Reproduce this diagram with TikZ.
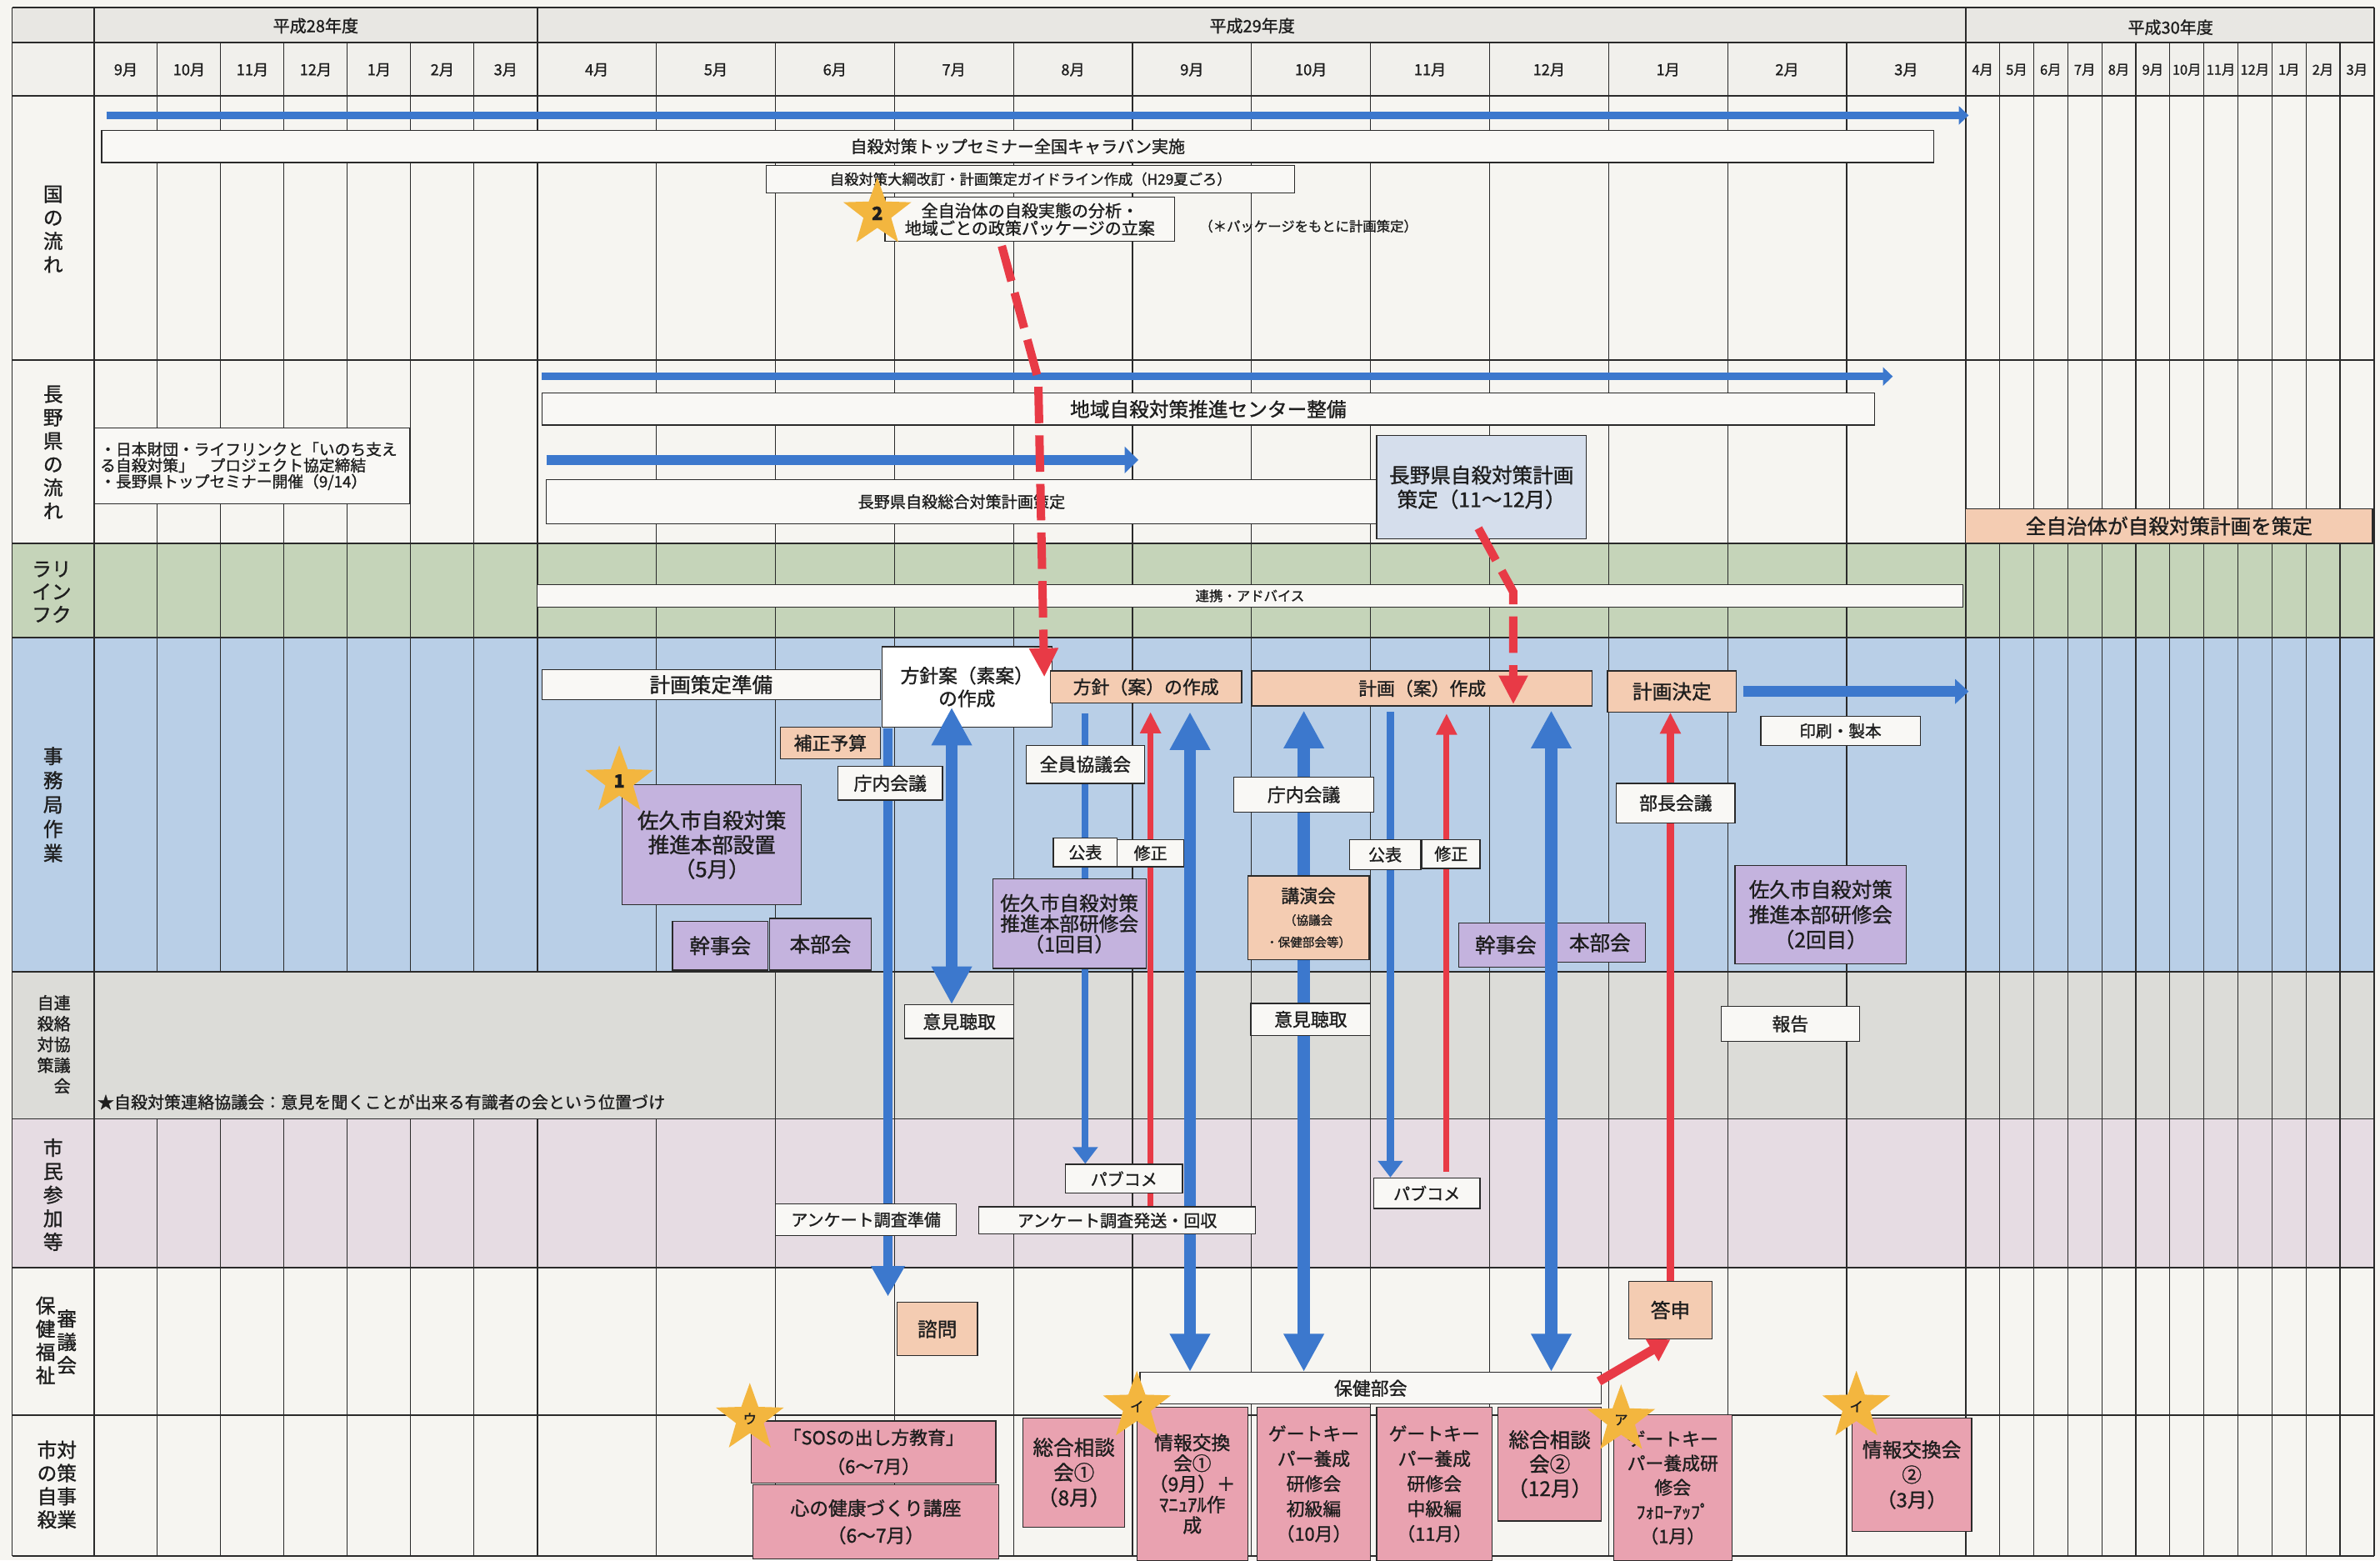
\documentclass[tikz,border=0pt]{standalone}
\usepackage{fontspec}
\setmainfont{Noto Sans CJK JP}[FakeBold=1.2]
\usetikzlibrary{arrows.meta,shapes.geometric}
\definecolor{sskPaper}{HTML}{F6F5F1}
\definecolor{sskHead}{HTML}{E8E7E3}
\definecolor{sskMonth}{HTML}{F1F0EC}
\definecolor{sskGreen}{HTML}{C5D4B9}
\definecolor{sskSky}{HTML}{B9CFE7}
\definecolor{sskGray}{HTML}{DCDCD8}
\definecolor{sskLilac}{HTML}{E6DCE3}
\definecolor{sskWhite}{HTML}{F9F8F5}
\definecolor{sskPeach}{HTML}{F4CCB2}
\definecolor{sskPurple}{HTML}{C4B3DE}
\definecolor{sskPink}{HTML}{E9A2B0}
\definecolor{sskSteel}{HTML}{D5DEEC}
\definecolor{sskBlue}{HTML}{3C78CD}
\definecolor{sskRed}{HTML}{E83A46}
\definecolor{sskGold}{HTML}{F3B63F}
\definecolor{sskInk}{HTML}{1E1E1E}
\definecolor{sskLine}{HTML}{2A2A2A}
\pgfdeclarelayer{sskgrid}
\pgfdeclarelayer{sskunder}
\pgfsetlayers{sskgrid,sskunder,main}
\newcommand{\sskfs}[2]{\fontsize{#1}{#2}\selectfont}
\tikzset{
  ssk rule/.style={draw=sskLine, line width=1pt},
  ssk grid/.style={draw=sskLine, line width=0.6pt},
  ssk size/.style 2 args={minimum width=#1pt, minimum height=#2pt},
  ssk box/.style={draw=sskLine, line width=0.7pt, fill=sskWhite, inner sep=0pt, align=center, text=sskInk},
  ssk peach/.style={ssk box, fill=sskPeach},
  ssk purple/.style={ssk box, fill=sskPurple},
  ssk pink/.style={ssk box, fill=sskPink},
  ssk side/.style={align=center, inner sep=0pt, text=sskInk},
  ssk month/.style={inner sep=0pt, text=sskInk, font=\sskfs{10}{10}},
  ssk star/.style={star, star points=5, star point ratio=2.45, fill=sskGold, inner sep=0pt, minimum size=47pt, text=sskInk},
  ssk flow/.style={draw=sskBlue, line width=5pt, -{Triangle[length=6.5pt,width=12pt]}},
  ssk wide/.style={draw=sskBlue, line width=7pt, -{Triangle[length=9pt,width=16pt]}},
  ssk link/.style={draw=sskBlue, line width=8pt, {Triangle[length=25pt,width=25pt]}-{Triangle[length=25pt,width=25pt]}},
  ssk down/.style={draw=sskBlue, line width=6.5pt, -{Triangle[length=20pt,width=21pt]}},
  ssk thin/.style={draw=sskBlue, line width=4.5pt, -{Triangle[length=11pt,width=16pt]}},
  ssk back/.style={draw=sskRed, line width=4pt, -{Triangle[length=14pt,width=13pt]}},
  ssk answer/.style={draw=sskRed, line width=6pt, -{Triangle[length=14pt,width=16pt]}},
  ssk hint/.style={draw=sskRed, line width=5.5pt, dash pattern=on 24pt off 8pt, -{Triangle[length=19pt,width=18pt]}},
}

\begin{document}
\begin{tikzpicture}[x=1pt, y=-1pt]
  \useasboundingbox (0,0) rectangle (1568,1028);

  \begin{pgfonlayer}{sskgrid}
    % paper and row bands
    \fill[sskPaper] (0,0) rectangle (1568,1028);
    \fill[sskHead] (8,5) rectangle (1564,28);
    \fill[sskMonth] (8,28) rectangle (1564,63);
    \fill[sskGreen] (8,358) rectangle (1564,420);
    \fill[sskSky] (8,420) rectangle (1564,640);
    \fill[sskGray] (8,640) rectangle (1564,737);
    \fill[sskLilac] (8,737) rectangle (1564,835);
    % month columns (the liaison band has none left of June)
    \foreach \i in {1,...,6} {
      \draw[ssk grid] (62+41.71*\i,28) -- (62+41.71*\i,640);
      \draw[ssk grid] (62+41.71*\i,737) -- (62+41.71*\i,1025);
    }
    \draw[ssk grid] (432.4,28) -- (432.4,640);
    \draw[ssk grid] (432.4,737) -- (432.4,1025);
    \foreach \i in {2,...,11}
      \draw[ssk grid] (354+78.42*\i,28) -- (354+78.42*\i,1025);
    \foreach \i in {1,...,11}
      \draw[ssk grid] (1295+22.42*\i,28) -- (1295+22.42*\i,1025);
    % year borders and frame
    \draw[ssk rule] (62,5) -- (62,1025);
    \draw[ssk rule] (354,5) -- (354,640);
    \draw[ssk rule] (354,737) -- (354,1025);
    \draw[ssk rule] (1295,5) -- (1295,1025);
    \draw[ssk rule] (8,5) -- (8,1025);
    \draw[ssk rule] (1564,5) -- (1564,1025);
    \foreach \y in {5,28,63,237,358,420,640,737,835,932,1025}
      \draw[ssk rule] (8,\y) -- (1564,\y);
  \end{pgfonlayer}

  % Headers
  \node[ssk side, font=\sskfs{11}{11}] (fy28) at (208,17) {平成28年度};
  \node[ssk side, font=\sskfs{11}{11}] (fy29) at (825,17) {平成29年度};
  \node[ssk side, font=\sskfs{11}{11}] (fy30) at (1430,18) {平成30年度};
  \foreach \m [count=\i from 0] in {9月,10月,11月,12月,1月,2月,3月}
    \node[ssk month] (m28-\i) at (82.9+41.71*\i,46) {\m};
  \foreach \m [count=\i from 0] in {4月,5月,6月,7月,8月,9月,10月,11月,12月,1月,2月,3月}
    \node[ssk month] (m29-\i) at (393.2+78.42*\i,46) {\m};
  \foreach \m [count=\i from 0] in {4月,5月,6月,7月,8月,9月,10月,11月,12月,1月,2月,3月}
    \node[ssk month, font=\sskfs{9}{9}] (m30-\i) at (1306.2+22.42*\i,46) {\m};

  % Row labels
  \node[ssk side, font=\sskfs{13}{15.5}] (lblKuni) at (35,151) {国\\の\\流\\れ};
  \node[ssk side, font=\sskfs{13}{15.4}] (lblNagano) at (35,298) {長\\野\\県\\の\\流\\れ};
  \node[ssk side, font=\sskfs{13}{15}] (lblLife) at (34,390) {ラリ\\イン\\フク};
  \node[ssk side, font=\sskfs{13}{16}] (lblJimu) at (35,530) {事\\務\\局\\作\\業};
  \node[ssk side, font=\sskfs{11}{13.7}] (lblRenraku) at (35.5,688) {自連\\殺絡\\対協\\策議\\　会};
  \node[ssk side, font=\sskfs{13}{15.5}] (lblShimin) at (35,787) {市\\民\\参\\加\\等};
  \node[ssk side, font=\sskfs{13}{15.3}] (lblHokenA) at (30,883) {保\\健\\福\\祉};
  \node[ssk side, font=\sskfs{13}{15.3}] (lblHokenB) at (44,884) {審\\議\\会};
  \node[ssk side, font=\sskfs{13}{15.3}] (lblJigyo) at (37.5,978) {市対\\の策\\自事\\殺業};

  % National flow
  \node[ssk box, ssk size={1207}{21}, font=\sskfs{11}{11}] (caravan) at (670.5,96.5) {自殺対策トップセミナー全国キャラバン実施};
  \node[ssk box, ssk size={348}{18}, font=\sskfs{9.5}{9.5}] (taiko) at (679,118) {自殺対策大綱改訂・計画策定ガイドライン作成（H29夏ごろ）};
  \node[ssk box, ssk size={191}{29}, font=\sskfs{11}{11.5}] (pkg) at (678.5,144.5) {全自治体の自殺実態の分析・\\地域ごとの政策パッケージの立案};
  \node[ssk side, font=\sskfs{9}{9}] (pkgNote) at (862,149) {（＊パッケージをもとに計画策定）};

  % Nagano flow
  \node[ssk box, ssk size={878}{21}, font=\sskfs{13}{13}] (centre) at (796,269.5) {地域自殺対策推進センター整備};
  \node[ssk box, ssk size={208}{50}, text width=200pt, align=left, font=\sskfs{10.3}{10.6}] (kyotei) at (166,307) {・日本財団・ライフリンクと「いのち支え\\る自殺対策」　プロジェクト協定締結\\・長野県トップセミナー開催（9/14）};
  \node[ssk box, ssk size={547}{29}, font=\sskfs{10.5}{10.5}] (kenPlan) at (633.5,330.5) {長野県自殺総合対策計画策定};
  \node[ssk box, fill=sskSteel, ssk size={138}{68}, font=\sskfs{13.5}{16}] (naganoPlan) at (976,321) {長野県自殺対策計画\\策定（11～12月）};
  \node[ssk peach, ssk size={268}{23}, font=\sskfs{13.5}{13.5}] (allPlan) at (1429,346.5) {全自治体が自殺対策計画を策定};

  % Lifelink
  \node[ssk box, ssk size={939}{15}, font=\sskfs{9}{9}] (renkei) at (823.5,392.5) {連携・アドバイス};

  % Office work
  \node[ssk box, ssk size={223}{20}, font=\sskfs{13.5}{13.5}] (junbi) at (468.5,451) {計画策定準備};
  \node[ssk box, fill=white, ssk size={112}{53}, font=\sskfs{12.5}{15}] (hoshinSo) at (637,452.5) {方針案（素案）\\の作成};
  \node[ssk peach, ssk size={66}{21}, font=\sskfs{12}{12}] (hosei) at (547,489.5) {補正予算};
  \node[ssk box, ssk size={69}{22}, font=\sskfs{12}{12}] (chonai1) at (586.5,516) {庁内会議};
  \node[ssk peach, ssk size={126}{21}, font=\sskfs{12}{12}] (hoshinAn) at (755,452.5) {方針（案）の作成};
  \node[ssk box, ssk size={78}{25}, font=\sskfs{12}{12}] (zenin) at (715,503.5) {全員協議会};
  \node[ssk box, ssk size={42}{19}, font=\sskfs{11}{11}] (kohyo1) at (715,561.5) {公表};
  \node[ssk box, ssk size={44}{18}, font=\sskfs{11}{11}] (shusei1) at (758,562) {修正};
  \node[ssk purple, ssk size={101}{59}, font=\sskfs{13}{13.5}] (kenshu1) at (704.5,608.5) {佐久市自殺対策\\推進本部研修会\\（1回目）};
  \node[ssk peach, ssk size={224}{23}, font=\sskfs{12}{12}] (keikakuAn) at (937,453.5) {計画（案）作成};
  \node[ssk box, ssk size={92}{23}, font=\sskfs{12}{12}] (chonai2) at (859,523.5) {庁内会議};
  \node[ssk box, ssk size={47}{20}, font=\sskfs{11}{11}] (kohyo2) at (912.5,563) {公表};
  \node[ssk box, ssk size={38}{19}, font=\sskfs{11}{11}] (shusei2) at (956,562.5) {修正};
  \node[ssk peach, ssk size={80}{55}, font=\sskfs{8}{14.5}] (koen) at (862,604.5) {{\sskfs{12}{14.5}講演会}\\（協議会\\・保健部会等）};
  \node[ssk purple, ssk size={62}{29}, font=\sskfs{13.5}{13.5}] (kanji2) at (992,622.5) {幹事会};
  \node[ssk purple, ssk size={60}{26}, font=\sskfs{13.5}{13.5}] (honbu2) at (1054,621) {本部会};
  \node[ssk peach, ssk size={85}{27}, font=\sskfs{13}{13}] (kettei) at (1101.5,455.5) {計画決定};
  \node[ssk box, ssk size={105}{19}, font=\sskfs{10.8}{10.8}] (insatsu) at (1212.5,481.5) {印刷・製本};
  \node[ssk box, ssk size={78}{26}, font=\sskfs{12}{12}] (bucho) at (1104,529) {部長会議};
  \node[ssk purple, ssk size={113}{65}, font=\sskfs{13.5}{16.5}] (kenshu2) at (1199.5,602.5) {佐久市自殺対策\\推進本部研修会\\（2回目）};
  \node[ssk purple, ssk size={118}{79}, font=\sskfs{14}{16}] (secchi) at (469,556.5) {佐久市自殺対策\\推進本部設置\\（5月）};
  \node[ssk purple, ssk size={63}{32}, font=\sskfs{13.5}{13.5}] (kanji1) at (474.5,623) {幹事会};
  \node[ssk purple, ssk size={67}{34}, font=\sskfs{13.5}{13.5}] (honbu1) at (540.5,622) {本部会};

  % Liaison council
  \node[ssk box, ssk size={72}{22}, font=\sskfs{12}{12}] (iken1) at (632,673) {意見聴取};
  \node[ssk box, ssk size={79}{21}, font=\sskfs{12}{12}] (iken2) at (863.5,671.5) {意見聴取};
  \node[ssk box, ssk size={91}{23}, font=\sskfs{12}{12}] (hokoku) at (1179.5,674.5) {報告};
  \node[ssk side, anchor=west, font=\sskfs{11}{11}] (renrakuNote) at (64,726) {★自殺対策連絡協議会：意見を聞くことが出来る有識者の会という位置づけ};

  % Citizens
  \node[ssk box, ssk size={77}{19}, font=\sskfs{11}{11}] (pub1) at (740.5,776.5) {パブコメ};
  \node[ssk box, ssk size={119}{21}, font=\sskfs{11}{11}] (ankJ) at (570.5,803.5) {アンケート調査準備};
  \node[ssk box, ssk size={182}{18}, font=\sskfs{11}{11}] (ankH) at (736,804) {アンケート調査発送・回収};
  \node[ssk box, ssk size={70}{20}, font=\sskfs{11}{11}] (pub2) at (940,786) {パブコメ};

  % Welfare council
  \node[ssk peach, ssk size={53}{35}, font=\sskfs{13}{13}] (shimon) at (617.5,875.5) {諮問};
  \node[ssk peach, ssk size={55}{38}, font=\sskfs{13}{13}] (toshin) at (1100.5,863) {答申};
  \node[ssk box, ssk size={304}{21}, font=\sskfs{12}{12}] (hokenbu) at (903,914.5) {保健部会};

  % City programmes
  \node[ssk pink, ssk size={161}{41}, font=\sskfs{12}{19}] (sos) at (575.5,956.5) {「SOSの出し方教育」\\（6～7月）};
  \node[ssk pink, ssk size={162}{49}, font=\sskfs{12.5}{18}] (kokoro) at (577,1002.5) {心の健康づくり講座\\（6～7月）};
  \node[ssk pink, ssk size={67}{72}, font=\sskfs{13.5}{16.5}] (sogo1) at (707.5,970) {総合相談\\会①\\（8月）};
  \node[ssk pink, ssk size={73}{101}, font=\sskfs{12.5}{13.6}] (joho1) at (785.5,977.5) {情報交換\\会①\\（9月）＋\\ﾏﾆｭｱﾙ作\\成};
  \node[ssk pink, ssk size={75}{101}, font=\sskfs{12}{16.5}] (gk1) at (865.5,977.5) {ゲートキー\\パー養成\\研修会\\初級編\\（10月）};
  \node[ssk pink, ssk size={76}{101}, font=\sskfs{12}{16.5}] (gk2) at (945,977.5) {ゲートキー\\パー養成\\研修会\\中級編\\（11月）};
  \node[ssk pink, ssk size={68}{75}, font=\sskfs{13.5}{16}] (sogo2) at (1021,964.5) {総合相談\\会②\\（12月）};
  \node[ssk pink, ssk size={78}{96}, font=\sskfs{12}{16}] (gkFollow) at (1102,980) {ゲートキー\\パー養成研\\修会\\ﾌｫﾛｰｱｯﾌﾟ\\（1月）};
  \node[ssk pink, ssk size={79}{75}, font=\sskfs{13}{16.5}] (joho2) at (1259.5,971.5) {情報交換会\\②\\（3月）};

  % Stars
  \node[ssk star, font=\sskfs{12}{12}\bfseries] (star1) at (408,514.5) {1};
  \node[ssk star, font=\sskfs{12}{12}\bfseries] (star2) at (578,140.5) {2};
  \node[ssk star, font=\sskfs{9}{9}] (starU) at (494,934.5) {ウ};
  \node[ssk star, font=\sskfs{9}{9}] (starI1) at (749,926.5) {イ};
  \node[ssk star, font=\sskfs{9}{9}] (starA) at (1068,935.5) {ア};
  \node[ssk star, font=\sskfs{9}{9}] (starI2) at (1223,926.5) {イ};

  % Free ends of the connectors
  \coordinate (natS) at (70,76);
  \coordinate (natE) at (1297,76);
  \coordinate (prefS) at (357,248);
  \coordinate (prefE) at (1247,248);
  \coordinate (kenS) at (360,303);
  \coordinate (kenE) at (750,303);
  \coordinate (askTop) at (585,480);
  \coordinate (askEnd) at (585,854);
  \coordinate (hsTop) at (627,466);
  \coordinate (pcTop1) at (715,470);
  \coordinate (fixTop1) at (758,469);
  \coordinate (pubTop1) at (784,469);
  \coordinate (lecTop) at (859,468);
  \coordinate (pcTop2) at (916,469);
  \coordinate (fixTop2) at (953,470);
  \coordinate (fixLow2) at (953,772);
  \coordinate (mtgTop) at (1022,468);
  \coordinate (printE) at (1297,455.5);
  \coordinate (pkgOut) at (660,162);
  \coordinate (pkgBend) at (684,250);
  \coordinate (pkgIn) at (688,446);
  \coordinate (npOut) at (974,348);
  \coordinate (npBend) at (997,390);
  \coordinate (npIn) at (997,464);

  % Connectors that run under the boxes
  \begin{pgfonlayer}{sskunder}
    \draw[ssk flow] (natS) -- (natE);
    \draw[ssk flow] (prefS) -- (prefE);
    \draw[ssk flow, line width=6.5pt, -{Triangle[length=9pt,width=17pt]}] (kenS) -- (kenE);
    \draw[ssk down] (askTop) -- (askEnd);
    \draw[ssk thin] (pcTop1) -- (pcTop1 |- pub1.north);
    \draw[ssk back] (fixTop1 |- ankH.north) -- (fixTop1);
    \draw[ssk link] (pubTop1) -- (pubTop1 |- hokenbu.north);
    \draw[ssk link] (lecTop) -- (lecTop |- hokenbu.north);
    \draw[ssk thin] (pcTop2) -- (pcTop2 |- pub2.north);
    \draw[ssk back] (fixLow2) -- (fixTop2);
    \draw[ssk back, line width=5pt] (toshin.north) -- (toshin.north |- kettei.south);
  \end{pgfonlayer}

  % Connectors on top
  \draw[ssk link] (hsTop) -- (hsTop |- iken1.north);
  \draw[ssk link] (mtgTop) -- (mtgTop |- hokenbu.north);
  \draw[ssk wide] ([xshift=4pt]kettei.east) -- (printE);
  \draw[ssk answer] ([xshift=-2pt, yshift=4.5pt]hokenbu.east) -- (toshin.south);
  \draw[ssk hint] (pkgOut) -- (pkgBend) -- (pkgIn);
  \draw[ssk hint] (npOut) -- (npBend) -- (npIn);
\end{tikzpicture}
\end{document}
